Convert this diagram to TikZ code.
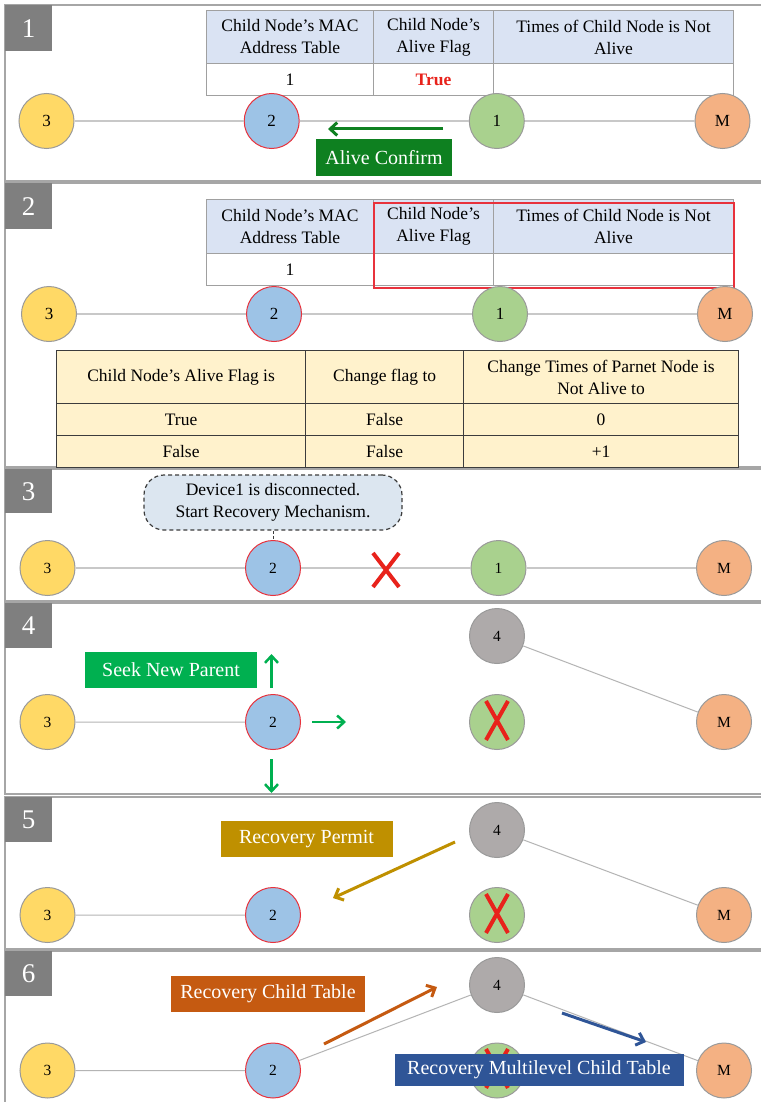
\documentclass[tikz,border=0pt]{standalone}
\usepackage{fontspec}
\setmainfont{Liberation Serif}
\usetikzlibrary{arrows.meta}
\definecolor{framegray}{HTML}{A6A6A6}
\definecolor{numgray}{HTML}{7F7F7F}
\definecolor{ndborder}{HTML}{9A9A9A}
\definecolor{ndred}{HTML}{E8323C}
\definecolor{cyellow}{HTML}{FFD966}
\definecolor{cblue}{HTML}{9DC3E6}
\definecolor{cgreen}{HTML}{A9D18E}
\definecolor{corange}{HTML}{F4B183}
\definecolor{cgray}{HTML}{AEAAAA}
\definecolor{hdrblue}{HTML}{DAE3F3}
\definecolor{tabgray}{HTML}{A0A0A0}
\definecolor{tabyellow}{HTML}{FFF2CC}
\definecolor{tabdark}{HTML}{3C3C3C}
\definecolor{calloutfill}{HTML}{DCE6F0}
\definecolor{dkgreen}{HTML}{0E8020}
\definecolor{brgreen}{HTML}{00B050}
\definecolor{goldc}{HTML}{BF9000}
\definecolor{rustc}{HTML}{C55A11}
\definecolor{navyc}{HTML}{2F5597}
\definecolor{xred}{HTML}{E8221B}
\definecolor{linkgray}{HTML}{C8C8C8}
\newcommand\tabfont{\fontsize{17.5}{22}\selectfont}
\newcommand\lblfont{\fontsize{20}{24}\selectfont}
\tikzset{
  frame/.style={draw=framegray, line width=1.6pt},
  numbox/.style={fill=numgray, text=white, anchor=north west, inner sep=0pt,
    minimum width=47pt, minimum height=46pt, font=\fontsize{27}{27}\selectfont},
  nd/.style={circle, draw=ndborder, line width=1pt, minimum size=55pt, inner sep=0pt,
    font=\fontsize{17}{17}\selectfont},
  ndsm/.style={nd, font=\fontsize{15.5}{15.5}\selectfont},
  n3/.style={fill=cyellow}, n2/.style={fill=cblue, draw=ndred},
  n1/.style={fill=cgreen}, nM/.style={fill=corange}, n4/.style={fill=cgray},
  cell/.style={draw=tabgray, line width=1pt, anchor=north west, inner sep=0pt,
    align=center, font=\tabfont},
  hcell/.style={cell, fill=hdrblue},
  ycell/.style={cell, draw=tabdark, line width=1.2pt, fill=tabyellow},
  link/.style={draw=linkgray, line width=1.5pt},
  thinlink/.style={draw=linkgray!90!black, line width=1pt},
  lbl/.style={text=white, inner sep=0pt, font=\lblfont},
  arr/.style={line width=3pt, -{Straight Barb[length=7pt,width=13pt]}},
  xmark/.style={draw=xred, line width=4pt},
}
\begin{document}
\begin{tikzpicture}[x=1pt,y=-1pt]
\useasboundingbox (0,0) rectangle (760,1102);
\fill[white] (0,0) rectangle (760,1102);

% ---------------- Panel 1 ----------------
\draw[frame] (5,5) rectangle (775,181);
\node[numbox] (num1) at (5,5) {1};
\node[hcell, minimum width=167pt, minimum height=53pt] (t1h1) at (206,10) {Child Node’s MAC\\Address Table};
\node[hcell, minimum width=120pt, minimum height=53pt] (t1h2) at (373,10) {Child Node’s\\Alive Flag};
\node[hcell, minimum width=240pt, minimum height=53pt] (t1h3) at (493,10) {Times of Child Node is Not\\Alive};
\node[cell, minimum width=167pt, minimum height=32pt] (t1d1) at (206,63) {1};
\node[cell, minimum width=120pt, minimum height=32pt, text=xred, font=\tabfont\bfseries] (t1d2) at (373,63) {True};
\node[cell, minimum width=240pt, minimum height=32pt] (t1d3) at (493,63) {};
\node[nd, n3] (p1n3) at (46.5,121) {3};
\node[nd, n2] (p1n2) at (271.7,121) {2};
\node[nd, n1] (p1n1) at (496.8,121) {1};
\node[nd, nM] (p1nM) at (722.5,121) {M};
\draw[link] (p1n3) -- (p1n2) (p1n2) -- (p1n1) (p1n1) -- (p1nM);
\coordinate (a1s) at (443,129);
\coordinate (a1e) at (328,129);
\draw[arr, dkgreen] (a1s) -- (a1e);
\node[lbl, fill=dkgreen, minimum width=136pt, minimum height=37pt] (alive) at (384,157.5) {Alive Confirm};

% ---------------- Panel 2 ----------------
\draw[frame] (5,183) rectangle (775,467);
\node[numbox] (num2) at (5,183) {2};
\node[hcell, minimum width=167pt, minimum height=54pt] (t2h1) at (206,199) {Child Node’s MAC\\Address Table};
\node[hcell, minimum width=120pt, minimum height=54pt] (t2h2) at (373,199) {Child Node’s\\Alive Flag};
\node[hcell, minimum width=240pt, minimum height=54pt] (t2h3) at (493,199) {Times of Child Node is Not\\Alive};
\node[cell, minimum width=167pt, minimum height=32pt] (t2d1) at (206,253) {1};
\node[cell, minimum width=120pt, minimum height=32pt] (t2d2) at (373,253) {};
\node[cell, minimum width=240pt, minimum height=32pt] (t2d3) at (493,253) {};
\node[draw=ndred, line width=1.8pt, anchor=north west, inner sep=0pt,
  minimum width=360pt, minimum height=85pt] (hilite) at (373,202) {};
\node[nd, n3] (p2n3) at (49,314) {3};
\node[nd, n2] (p2n2) at (274,314) {2};
\node[nd, n1] (p2n1) at (500,314) {1};
\node[nd, nM] (p2nM) at (725,314) {M};
\draw[link] (p2n3) -- (p2n2) (p2n2) -- (p2n1) (p2n1) -- (p2nM);
\node[ycell, minimum width=249pt, minimum height=53pt] (y1) at (56,350) {Child Node’s Alive Flag is};
\node[ycell, minimum width=158pt, minimum height=53pt] (y2) at (305,350) {Change flag to};
\node[ycell, minimum width=275pt, minimum height=53pt] (y3) at (463,350) {Change Times of Parnet Node is\\Not Alive to};
\node[ycell, minimum width=249pt, minimum height=32pt] (y4) at (56,403) {True};
\node[ycell, minimum width=158pt, minimum height=32pt] (y5) at (305,403) {False};
\node[ycell, minimum width=275pt, minimum height=32pt] (y6) at (463,403) {0};
\node[ycell, minimum width=249pt, minimum height=32pt] (y7) at (56,435) {False};
\node[ycell, minimum width=158pt, minimum height=32pt] (y8) at (305,435) {False};
\node[ycell, minimum width=275pt, minimum height=32pt] (y9) at (463,435) {+1};

% ---------------- Panel 3 ----------------
\draw[frame] (5,469) rectangle (775,601);
\node[numbox, minimum height=44pt] (num3) at (5,469) {3};
\node[ndsm, n3] (p3n3) at (47.5,568) {3};
\node[ndsm, n2] (p3n2) at (273,568) {2};
\node[ndsm, n1] (p3n1) at (498.5,568) {1};
\node[ndsm, nM] (p3nM) at (724,568) {M};
\draw[link] (p3n3) -- (p3n2) (p3n2) -- (p3n1) (p3n1) -- (p3nM);
\node[draw=tabdark, dashed, dash pattern=on 4pt off 3pt, line width=1.2pt, fill=calloutfill,
  rounded corners=20pt, minimum width=258pt, minimum height=55pt, inner sep=0pt,
  align=center, font=\tabfont] (callout) at (273,502.5) {Device1 is disconnected.\\Start Recovery Mechanism.};
\draw[draw=tabdark, dashed, dash pattern=on 3pt off 2pt, line width=1pt] (callout.south) -- (p3n2.north);
\draw[xmark] (373,553) -- (399,587) (399,553) -- (373,587);

% ---------------- Panel 4 ----------------
\draw[frame] (5,603) rectangle (775,794);
\node[numbox, minimum height=45pt] (num4) at (5,603) {4};
\node[ndsm, n4] (p4n4) at (497,636) {4};
\node[ndsm, n3] (p4n3) at (47.5,722) {3};
\node[ndsm, n2] (p4n2) at (273,722) {2};
\node[ndsm, n1] (p4n1) at (497,722) {};
\node[ndsm, nM] (p4nM) at (724,722) {M};
\draw[thinlink] (p4n3) -- (p4n2) (p4n4) -- (p4nM);
\draw[xmark] (486,701) -- (508,740) (508,701) -- (486,740);
\node[lbl, fill=brgreen, minimum width=172pt, minimum height=36pt] (seek) at (171,670) {Seek New Parent};
\coordinate (u1) at (271.5,688); \coordinate (u2) at (271.5,654);
\coordinate (r1) at (312,722); \coordinate (r2) at (346,722);
\coordinate (d1) at (271.5,759); \coordinate (d2) at (271.5,793);
\draw[arr, brgreen, line width=2.5pt] (u1) -- (u2);
\draw[arr, brgreen, line width=2.5pt] (r1) -- (r2);
\draw[arr, brgreen, line width=2.5pt] (d1) -- (d2);

% ---------------- Panel 5 ----------------
\draw[frame] (5,797) rectangle (775,949);
\node[numbox, minimum height=45pt] (num5) at (5,797) {5};
\node[ndsm, n4] (p5n4) at (497,830) {4};
\node[ndsm, n3] (p5n3) at (47.5,915) {3};
\node[ndsm, n2] (p5n2) at (273,915) {2};
\node[ndsm, n1] (p5n1) at (497,915) {};
\node[ndsm, nM] (p5nM) at (724,915) {M};
\draw[thinlink] (p5n3) -- (p5n2) (p5n4) -- (p5nM);
\draw[xmark] (486,894) -- (508,933) (508,894) -- (486,933);
\node[lbl, fill=goldc, minimum width=172pt, minimum height=36pt] (permit) at (306.5,839) {Recovery Permit};
\coordinate (g1) at (455,842); \coordinate (g2) at (333,898);
\draw[arr, goldc] (g1) -- (g2);

% ---------------- Panel 6 ----------------
\draw[frame] (5,951) rectangle (775,1120);
\node[numbox, minimum height=45pt] (num6) at (5,951) {6};
\node[ndsm, n4] (p6n4) at (497,985) {4};
\node[ndsm, n3] (p6n3) at (47.5,1070.5) {3};
\node[ndsm, n2] (p6n2) at (273,1070.5) {2};
\node[ndsm, n1] (p6n1) at (497,1070.5) {};
\node[ndsm, nM] (p6nM) at (724,1070.5) {M};
\draw[thinlink] (p6n3) -- (p6n2) (p6n2) -- (p6n4) (p6n4) -- (p6nM);
\draw[xmark] (486,1049) -- (508,1088) (508,1049) -- (486,1088);
\node[lbl, fill=rustc, minimum width=194pt, minimum height=36pt] (rct) at (268,994) {Recovery Child Table};
\coordinate (o1) at (324,1044); \coordinate (o2) at (437,987);
\draw[arr, rustc] (o1) -- (o2);
\coordinate (b1) at (562,1013); \coordinate (b2) at (646,1042);
\draw[arr, navyc] (b1) -- (b2);
\node[lbl, fill=navyc, minimum width=289pt, minimum height=32pt] (rmct) at (539,1070) {Recovery Multilevel Child Table};
\end{tikzpicture}
\end{document}
